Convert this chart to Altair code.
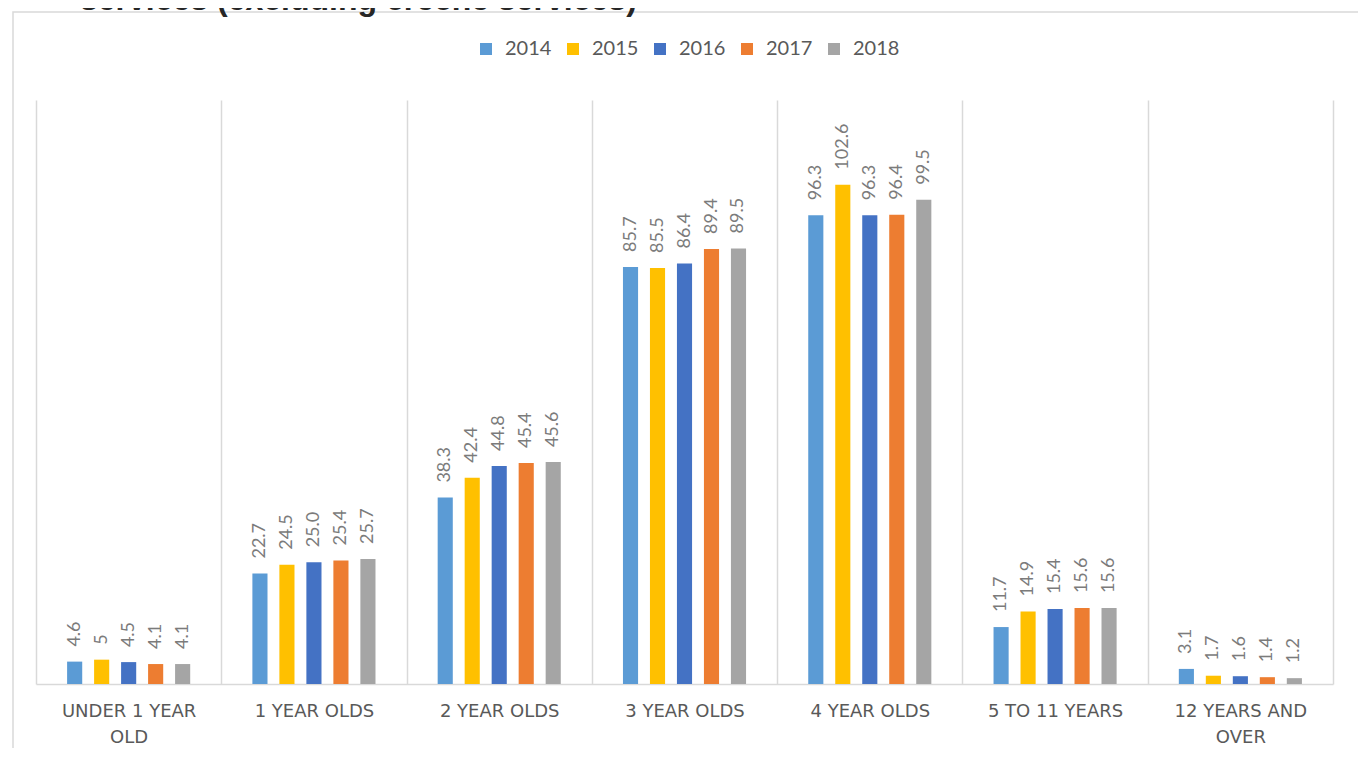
import altair as alt
import pandas as pd

categories = ["UNDER 1 YEAR OLD", "1 YEAR OLDS", "2 YEAR OLDS", "3 YEAR OLDS",
              "4 YEAR OLDS", "5 TO 11 YEARS", "12 YEARS AND OVER"]
years = ["2014", "2015", "2016", "2017", "2018"]
colors = ["#5B9BD5", "#FFC000", "#4472C4", "#ED7D31", "#A5A5A5"]

v2014 = ["4.6", "22.7", "38.3", "85.7", "96.3", "11.7", "3.1"]
v2015 = ["5", "24.5", "42.4", "85.5", "102.6", "14.9", "1.7"]
v2016 = ["4.5", "25.0", "44.8", "86.4", "96.3", "15.4", "1.6"]
v2017 = ["4.1", "25.4", "45.4", "89.4", "96.4", "15.6", "1.4"]
v2018 = ["4.1", "25.7", "45.6", "89.5", "99.5", "15.6", "1.2"]

title_text = "services (excluding creche services)"

series = dict(zip(years, [v2014, v2015, v2016, v2017, v2018]))
rows = []
for yr, vals in series.items():
    for cat, s in zip(categories, vals):
        rows.append({"category": cat, "year": yr, "value": float(s), "label": s})
df = pd.DataFrame(rows)

W, H = 1297, 584

x_enc = alt.X("category:N", sort=categories, title=None,
              scale=alt.Scale(paddingInner=0, paddingOuter=0),
              axis=alt.Axis(labelAngle=0, ticks=False, grid=True, tickBand="extent",
                            gridColor="#D9D9D9", gridWidth=1.5,
                            domainColor="#D9D9D9", domainWidth=1.5,
                            labelFont="DejaVu Sans", labelFontSize=18, labelColor="#595959",
                            labelPadding=18, labelLineHeight=26, labelLimit=0,
                            labelExpr="datum.label == 'UNDER 1 YEAR OLD' ? ['UNDER 1 YEAR', 'OLD'] : datum.label == '12 YEARS AND OVER' ? ['12 YEARS AND', 'OVER'] : datum.label"))
xoff = alt.XOffset("year:N", sort=years,
                   scale=alt.Scale(range=[31.1, 154.2], paddingInner=0.44, paddingOuter=0))
y_enc = alt.Y("value:Q", scale=alt.Scale(domain=[0, 120], nice=False), axis=None, title=None)

bars = alt.Chart(df).mark_bar().encode(
    x=x_enc, xOffset=xoff, y=y_enc,
    color=alt.Color("year:N", sort=years,
                    scale=alt.Scale(domain=years, range=colors),
                    legend=alt.Legend(title=None, orient="none", direction="horizontal",
                                      legendX=440, legendY=-61,
                                      symbolType="square", symbolSize=144, symbolStrokeWidth=0,
                                      labelFont="Lato", labelFontSize=20, labelColor="#595959",
                                      labelOffset=9, columnPadding=11))
)

texts = alt.Chart(df).mark_text(angle=270, align="left", baseline="middle", dx=15,
                                font="Lato", fontSize=18, color="#7B7B7B").encode(
    x=alt.X("category:N", sort=categories), xOffset=xoff, y=y_enc, text="label:N"
)

frame = alt.Chart(pd.DataFrame({"k": [0]})).mark_rect(
    fill="transparent", stroke="#D9D9D9", strokeWidth=1.5).encode(
    x=alt.value(-23), x2=alt.value(W + 28), y=alt.value(-88), y2=alt.value(H + 120)
)

title = alt.Chart(pd.DataFrame({"t": [title_text]})).mark_text(
    align="left", baseline="alphabetic", font="Liberation Sans", fontWeight="bold",
    fontSize=32, color="#262626").encode(
    x=alt.value(44), y=alt.value(-90), text="t:N"
)

chart = alt.layer(frame, title, bars, texts).properties(
    width=W, height=H,
    autosize=alt.AutoSizeParams(type="none"),
    padding={"left": 28, "top": 92, "right": 25, "bottom": 64},
    background="white",
).configure_view(stroke=None)

chart.save("out.html", embed_options={"renderer": "svg", "actions": False})
